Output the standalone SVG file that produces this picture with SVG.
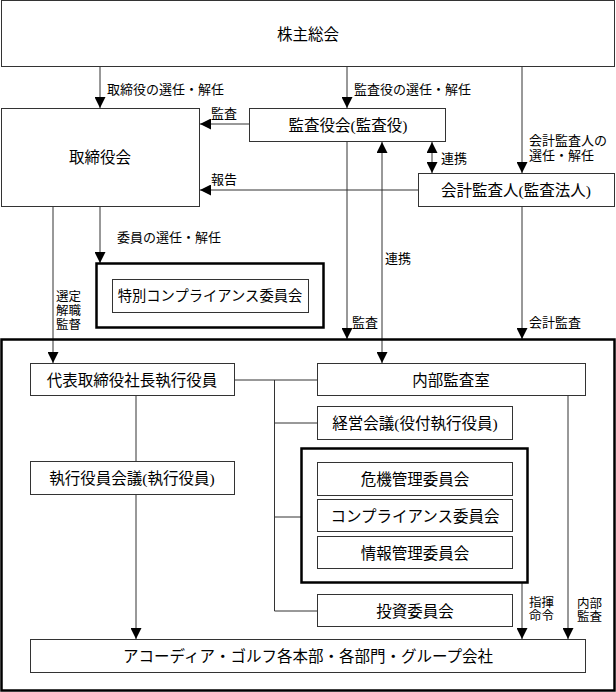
<svg xmlns="http://www.w3.org/2000/svg" width="616" height="692" viewBox="0 0 616 692">
<style>
.box{fill:#fff;stroke:#333;stroke-width:1}
.thick{fill:none;stroke:#000;stroke-width:2.5}
.t{font-family:"Liberation Serif","Noto Sans CJK JP",serif;font-size:15.5px;fill:#000;text-anchor:middle;dominant-baseline:central}
.l{font-family:"Liberation Serif","Noto Sans CJK JP",serif;font-size:13px;fill:#000;dominant-baseline:central}
.s{font-family:"Liberation Serif","Noto Sans CJK JP",serif;font-size:12.5px;fill:#000;dominant-baseline:central}
.c{fill:none;stroke:#333;stroke-width:1}
</style>
<defs>
<marker id="ah" markerUnits="userSpaceOnUse" markerWidth="11" markerHeight="11" viewBox="0 0 10 10" refX="10" refY="5" orient="auto-start-reverse">
<path d="M0,0 L10,5 L0,10 z" fill="#000"/>
</marker>
</defs>
<rect width="616" height="692" fill="#fff"/>
<g id="connectors">
<line class="c" x1="100" y1="67" x2="100" y2="108" marker-end="url(#ah)"/>
<line class="c" x1="347" y1="67" x2="347" y2="108" marker-end="url(#ah)"/>
<line class="c" x1="522" y1="67" x2="522" y2="173" marker-end="url(#ah)"/>
<line class="c" x1="249" y1="124" x2="200" y2="124" marker-end="url(#ah)"/>
<line class="c" x1="418" y1="190" x2="200" y2="190" marker-end="url(#ah)"/>
<line class="c" x1="432" y1="142" x2="432" y2="173" marker-start="url(#ah)" marker-end="url(#ah)"/>
<line class="c" x1="347" y1="142" x2="347" y2="339" marker-end="url(#ah)"/>
<line class="c" x1="382" y1="142" x2="382" y2="363" marker-start="url(#ah)" marker-end="url(#ah)"/>
<line class="c" x1="522" y1="207" x2="522" y2="339" marker-end="url(#ah)"/>
<line class="c" x1="53" y1="207" x2="53" y2="363" marker-end="url(#ah)"/>
<line class="c" x1="100" y1="207" x2="100" y2="263" marker-end="url(#ah)"/>
<line class="c" x1="235" y1="380" x2="317" y2="380"/>
<polyline class="c" points="274.5,380 274.5,611 317,611"/>
<line class="c" x1="274.5" y1="423" x2="317" y2="423"/>
<line class="c" x1="274.5" y1="517" x2="301" y2="517"/>
<line class="c" x1="136" y1="396" x2="136" y2="461"/>
<line class="c" x1="136" y1="495" x2="136" y2="639" marker-end="url(#ah)"/>
<line class="c" x1="522" y1="583" x2="522" y2="639" marker-end="url(#ah)"/>
<line class="c" x1="568" y1="396" x2="568" y2="639" marker-end="url(#ah)"/>
</g>
<g id="labels">
<text class="l" x="107" y="89">取締役の選任・解任</text>
<text class="l" x="354" y="89">監査役の選任・解任</text>
<text class="l" x="211" y="113">監査</text>
<text class="l" x="211" y="179">報告</text>
<text class="l" x="529" y="140">会計監査人の</text>
<text class="l" x="529" y="155">選任・解任</text>
<text class="l" x="441" y="158">連携</text>
<text class="l" x="117" y="237">委員の選任・解任</text>
<text class="l" x="385" y="258">連携</text>
<text class="s" x="56" y="297">選定</text>
<text class="s" x="56" y="311">解職</text>
<text class="s" x="56" y="325">監督</text>
<text class="l" x="352" y="322">監査</text>
<text class="l" x="529" y="322">会計監査</text>
<text class="s" x="529" y="603">指揮</text>
<text class="s" x="529" y="616">命令</text>
<text class="s" x="577" y="604">内部</text>
<text class="s" x="577" y="617">監査</text>
</g>
<g id="shareholders">
<rect class="box" x="1.5" y="0.5" width="613" height="66"/>
<text class="t" x="308" y="34">株主総会</text>
</g>
<g id="board">
<rect class="box" x="1.5" y="108.5" width="198" height="98"/>
<text class="t" x="100" y="157">取締役会</text>
</g>
<g id="auditors">
<rect class="box" x="249.5" y="108.5" width="196" height="33"/>
<text class="t" x="348" y="125">監査役会(監査役)</text>
</g>
<g id="accounting-auditor">
<rect class="box" x="418.5" y="173.5" width="196" height="33"/>
<text class="t" x="516" y="190">会計監査人(監査法人)</text>
</g>
<g id="special-compliance">
<rect class="thick" x="96.5" y="263.5" width="227" height="64"/>
<rect class="box" x="112.5" y="279.5" width="196" height="33"/>
<text class="t" x="210" y="296" style="font-size:14.3px">特別コンプライアンス委員会</text>
</g>
<g id="company">
<rect class="thick" x="1.5" y="339.5" width="613" height="351"/>
</g>
<g id="president">
<rect class="box" x="30.5" y="363.5" width="204" height="32"/>
<text class="t" x="132" y="380">代表取締役社長執行役員</text>
</g>
<g id="internal-audit">
<rect class="box" x="317.5" y="363.5" width="268" height="32"/>
<text class="t" x="451" y="380">内部監査室</text>
</g>
<g id="management-meeting">
<rect class="box" x="317.5" y="406.5" width="195" height="33"/>
<text class="t" x="415" y="423">経営会議(役付執行役員)</text>
</g>
<g id="committees">
<rect class="thick" x="301.5" y="448.5" width="226" height="134"/>
</g>
<g id="crisis">
<rect class="box" x="317.5" y="462.5" width="195" height="33"/>
<text class="t" x="415" y="479">危機管理委員会</text>
</g>
<g id="compliance">
<rect class="box" x="317.5" y="499.5" width="195" height="32"/>
<text class="t" x="415" y="516">コンプライアンス委員会</text>
</g>
<g id="info">
<rect class="box" x="317.5" y="536.5" width="195" height="32"/>
<text class="t" x="415" y="553">情報管理委員会</text>
</g>
<g id="exec-meeting">
<rect class="box" x="30.5" y="461.5" width="204" height="33"/>
<text class="t" x="132" y="478">執行役員会議(執行役員)</text>
</g>
<g id="investment">
<rect class="box" x="317.5" y="594.5" width="195" height="32"/>
<text class="t" x="415" y="611">投資委員会</text>
</g>
<g id="group">
<rect class="box" x="30.5" y="639.5" width="555" height="33"/>
<text class="t" x="308" y="656">アコーディア・ゴルフ各本部・各部門・グループ会社</text>
</g>
</svg>
